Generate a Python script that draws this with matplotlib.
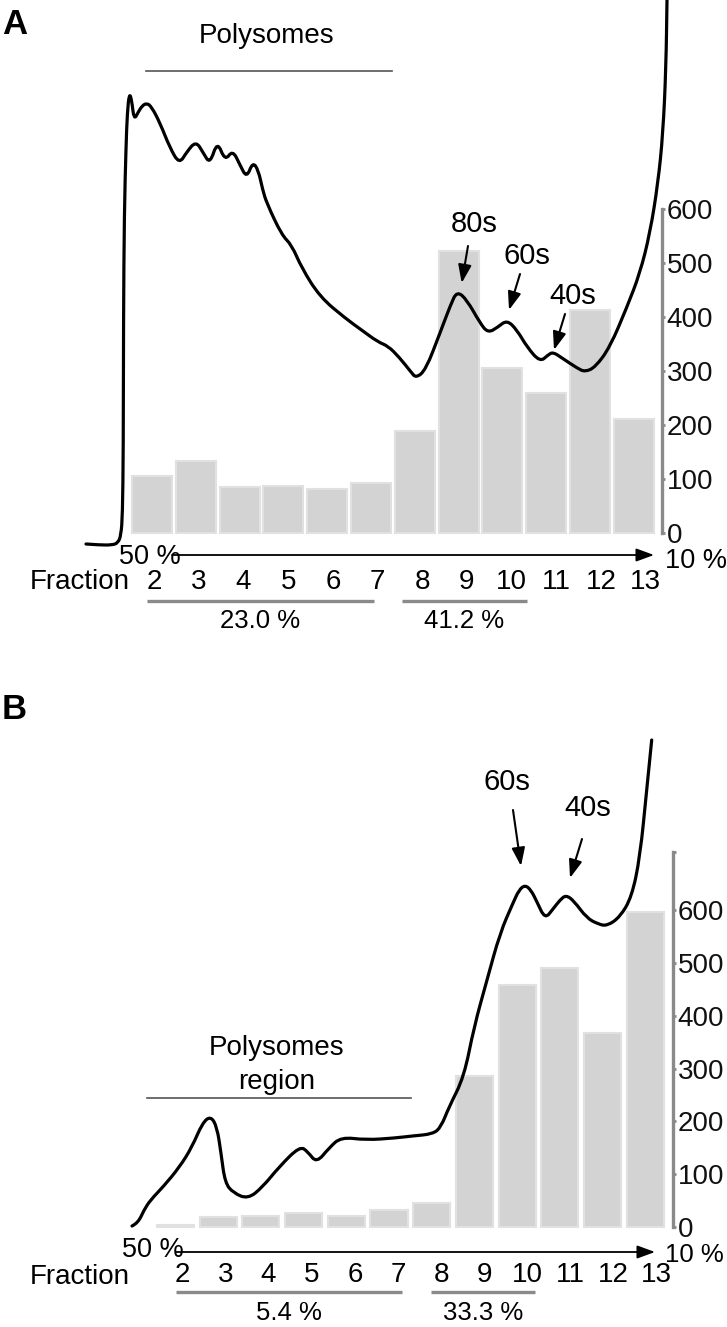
import matplotlib
matplotlib.use("Agg")
import matplotlib.pyplot as plt
from matplotlib.path import Path
from matplotlib.patches import PathPatch

plt.rcParams['font.family'] = ['Liberation Sans', 'DejaVu Sans']

# ---------------- data ----------------
fractions = [2, 3, 4, 5, 6, 7, 8, 9, 10, 11, 12, 13]
bars_a = [106, 134, 85, 87, 82, 92, 188, 522, 305, 260, 413, 211]
bars_b = [4, 19, 21, 27, 21, 33, 46, 286, 459, 491, 368, 597]
bar_ticks = [0, 100, 200, 300, 400, 500, 600]

# absorbance traces (arbitrary units, position along gradient)
trace_a_pos = [86, 100, 112, 118, 121, 122.5, 123.3, 123.5, 124.3, 126, 127.3, 129.3,
               131.7, 134, 138.3, 142, 146.7, 151.7, 160, 170, 179.3, 186.7, 196,
               203.3, 210, 217.3, 225, 232.7, 240, 246.7, 252.7, 258.3, 262.7, 266.7,
               281.7, 291.7, 301.7, 320, 345, 361.5, 378, 388, 399, 411, 416, 425.7,
               440, 450.5, 457, 467, 480, 488, 498, 507, 517, 527, 540, 548, 553, 562,
               577, 585, 595.5, 610, 627, 640, 650, 658, 663, 666, 667]
trace_a_abs = [-11, -12, -12, -10, -2, 18, 83, 213, 320, 386, 420, 440,
               433, 413, 421, 427, 430, 426, 410, 385, 369, 381, 392,
               380, 369, 392, 372, 383, 368, 355, 371, 363, 343, 330,
               298, 288, 265, 236, 215, 203, 191, 187, 176, 161, 155, 163,
               200, 228, 242, 233, 210, 200, 206, 213, 203, 186, 171, 178, 181, 175,
               165, 161, 166, 186, 226, 260, 300, 350, 400, 466, 533]

trace_b_pos = [132, 138, 144, 150.5, 163, 179.6, 192, 202.4, 210.7, 217, 221, 225,
               233.5, 248, 262.6, 279, 300, 308, 316.5, 329, 341, 366, 395, 412, 433,
               441, 449, 464, 474, 487, 500, 513, 519, 525, 531, 537, 545, 553, 560,
               566, 574, 586.7, 598, 607, 620, 631.7, 640, 646.7, 651.7]
trace_b_abs = [1, 4, 17, 27, 40, 60, 80, 104, 111, 100, 74, 44,
               34, 28, 40, 60, 81, 75, 64, 79, 90, 87, 89, 91, 93,
               100, 120, 150, 200, 247, 294, 324, 337, 342, 337, 325, 308, 318, 327,
               332, 326, 309, 303, 301, 310, 330, 370, 437, 487]

groups_a = ["23.0 %", "41.2 %"]
groups_b = ["5.4 %", "33.3 %"]
peaks_a = ["80s", "60s", "40s"]
peaks_b = ["60s", "40s"]

# ---------------- layout ----------------
W, H = 727, 1327
fig = plt.figure(figsize=(W / 100, H / 100), dpi=100)

BAR_FC = '#d3d3d3'
BAR_EC = '#e1e1e1'
GRAY = '#8a8a8a'
FS = 20


def smooth_path(xs, ys):
    # quadratic B-spline style rendering through the read points
    verts = [(xs[0], ys[0])]
    codes = [Path.MOVETO]
    for i in range(1, len(xs) - 1):
        mx = (xs[i] + xs[i + 1]) / 2
        my = (ys[i] + ys[i + 1]) / 2
        verts += [(xs[i], ys[i]), (mx, my)]
        codes += [Path.CURVE3, Path.CURVE3]
    verts.append((xs[-1], ys[-1]))
    codes.append(Path.LINETO)
    return Path(verts, codes)


def panel(top, bot, base, c2, sp, unit, spine_px, spine_top, bar_w, vals,
          trace_x, trace_y, letter, letter_py):
    rect = [0, 1 - bot / H, 1, (bot - top) / H]
    axb = fig.add_axes(rect)
    axt = fig.add_axes(rect)
    axt.set_xlim(0, W)
    axt.set_ylim(base - bot, base - top)
    axt.axis('off')
    axt.patch.set_alpha(0)

    def px2x(px):
        return 2 + (px - c2) / sp

    def py2y(py):
        return (base - py) / unit

    axb.set_xlim(px2x(0), px2x(W))
    axb.set_ylim(py2y(bot), py2y(top))
    axb.bar(fractions, vals, width=bar_w, color=BAR_FC, edgecolor=BAR_EC, linewidth=1.5)
    for s in ['top', 'left', 'bottom']:
        axb.spines[s].set_visible(False)
    axb.spines['right'].set_position(('data', px2x(spine_px)))
    axb.spines['right'].set_bounds(0, spine_top)
    axb.spines['right'].set_color(GRAY)
    axb.spines['right'].set_linewidth(2.4)
    axb.yaxis.tick_right()
    axb.set_yticks(bar_ticks)
    axb.set_yticklabels([str(t) for t in bar_ticks])
    axb.tick_params(axis='y', which='both', direction='out', length=2.5, width=2,
                    color=GRAY, pad=1, labelsize=20, labelcolor='#111111')
    if spine_top > 600:
        axb.set_yticks([spine_top], minor=True)
        axb.tick_params(axis='y', which='minor', length=2.5, width=2, color=GRAY)
    axb.set_xticks([])
    axb.patch.set_alpha(0)

    patch = PathPatch(smooth_path(trace_x, trace_y), facecolor='none',
                      edgecolor='black', lw=2.3, clip_on=False,
                      joinstyle='round', capstyle='round')
    axt.add_patch(patch)

    axt.text(2, base - letter_py, letter, fontsize=25, fontweight='bold',
             ha='left', va='center')
    return axb, axt, px2x, py2y


# ---------------- panel A ----------------
baseA = 533
axbA, axtA, pxA, pyA = panel(0, 660, baseA, 152, 43.8, 0.54, 662, 600, 0.91, bars_a,
                             trace_a_pos, trace_a_abs, 'A', 24)
axtA.text(267, baseA - 36, 'Polysomes', fontsize=FS, ha='center', va='center')
axtA.plot([146, 392], [baseA - 71] * 2, color='#555555', lw=1.2)

peak_txt_a = [(474, 224), (527, 256), (573, 296)]
peak_tail_a = [(468, 246), (520, 274), (565, 314)]
peak_tip_a = [(461.7, 283), (509, 310), (554, 350)]
for lab, t, a, b in zip(peaks_a, peak_txt_a, peak_tail_a, peak_tip_a):
    axtA.text(t[0], baseA - t[1], lab, fontsize=21, ha='center', va='center')
    axtA.annotate('', xy=(b[0], baseA - b[1]), xytext=(a[0], baseA - a[1]),
                  arrowprops=dict(arrowstyle='-|>,head_length=0.55,head_width=0.2',
                                  lw=1.5, color='black', mutation_scale=20,
                                  shrinkA=0, shrinkB=0))

axtA.annotate('', xy=(654, baseA - 555), xytext=(172, baseA - 555),
              arrowprops=dict(arrowstyle='-|>,head_length=0.6,head_width=0.22',
                              lw=1.3, color='black', mutation_scale=18,
                              shrinkA=0, shrinkB=0))
axtA.text(119, baseA - 557, '50 %', fontsize=19.5, ha='left', va='center')
axtA.text(665, baseA - 561, '10 %', fontsize=19.5, ha='left', va='center')
axtA.text(30, baseA - 582, 'Fraction', fontsize=FS, ha='left', va='center')
for k in fractions:
    axbA.text(k + 0.05 + 0.02 * (k - 2), pyA(582), str(k), fontsize=FS,
              ha='center', va='center')
ul_a = [(147, 374), (402, 527)]
for lab, (x0, x1) in zip(groups_a, ul_a):
    axtA.plot([x0, x1], [baseA - 601] * 2, color=GRAY, lw=2.4, solid_capstyle='butt')
    axtA.text((x0 + x1) / 2, baseA - 621, lab, fontsize=18.5, ha='center', va='center')

# ---------------- panel B ----------------
baseB = 1227
axbB, axtB, pxB, pyB = panel(663, H, baseB, 175.5, 42.7, 0.528, 673, 710, 0.87, bars_b,
                             trace_b_pos, trace_b_abs, 'B', 709)
axtB.text(277, baseB - 1048, 'Polysomes', fontsize=FS, ha='center', va='center')
axtB.text(277, baseB - 1082, 'region', fontsize=FS, ha='center', va='center')
axtB.plot([147, 411], [baseB - 1098] * 2, color='#555555', lw=1.2)

peak_txt_b = [(507, 782), (588, 808)]
peak_tail_b = [(513, 810), (582, 839)]
peak_tip_b = [(521, 866), (570, 878)]
for lab, t, a, b in zip(peaks_b, peak_txt_b, peak_tail_b, peak_tip_b):
    axtB.text(t[0], baseB - t[1], lab, fontsize=21, ha='center', va='center')
    axtB.annotate('', xy=(b[0], baseB - b[1]), xytext=(a[0], baseB - a[1]),
                  arrowprops=dict(arrowstyle='-|>,head_length=0.55,head_width=0.2',
                                  lw=1.5, color='black', mutation_scale=20,
                                  shrinkA=0, shrinkB=0))

axtB.annotate('', xy=(655, baseB - 1252), xytext=(176, baseB - 1252),
              arrowprops=dict(arrowstyle='-|>,head_length=0.6,head_width=0.22',
                              lw=1.3, color='black', mutation_scale=18,
                              shrinkA=0, shrinkB=0))
axtB.text(122, baseB - 1250, '50 %', fontsize=19.5, ha='left', va='center')
axtB.text(665, baseB - 1255, '10 %', fontsize=18.5, ha='left', va='center')
axtB.text(30, baseB - 1277, 'Fraction', fontsize=FS, ha='left', va='center')
for k in fractions:
    axbB.text(k + 0.16 + 0.01 * (k - 2), pyB(1275), str(k), fontsize=FS,
              ha='center', va='center')
ul_b = [(176, 402), (431, 535)]
for lab, (x0, x1) in zip(groups_b, ul_b):
    axtB.plot([x0, x1], [baseB - 1292] * 2, color=GRAY, lw=2.4, solid_capstyle='butt')
    axtB.text((x0 + x1) / 2, baseB - 1313, lab, fontsize=18.5, ha='center', va='center')

fig.savefig('out.png', dpi=100, facecolor='white')
